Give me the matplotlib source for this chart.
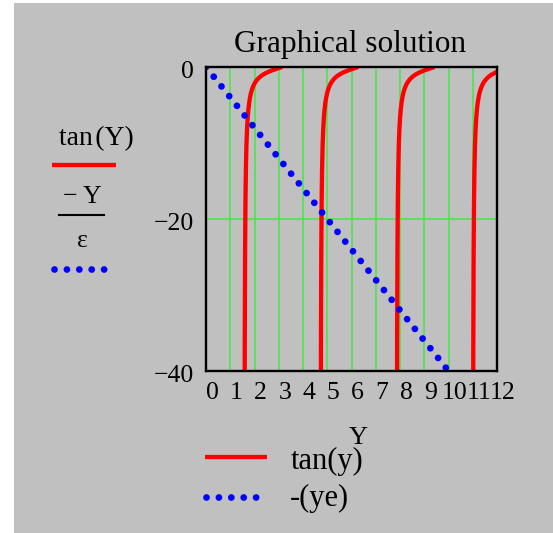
import numpy as np
import matplotlib
matplotlib.use("Agg")
import matplotlib.pyplot as plt
import matplotlib.transforms as mtrans
from matplotlib.lines import Line2D
from matplotlib.patches import Rectangle

# ---- chart content ----
eps = 0.25                      # epsilon in the straight line -Y/eps
x_range = [0, 12]
y_range = [-40, 0]
x_ticks = list(range(0, 13))
x_tick_labels = [str(v) for v in x_ticks]
y_ticks = [0, -20, -40]
y_tick_labels = ["0", "\u221220", "\u221240"]
x_grid = list(range(1, 12))
y_grid = [-20]
title = "Graphical solution"
x_label = "Y"
side_labels = ["tan\u200a(Y)", "\u2212 Y", "\u03b5"]
bottom_labels = ["tan(y)", "-(ye)"]

# ---- styles ----
W, H = 553, 533
GRAY = "#c0c0c0"
GREEN = "#4ee44e"
RED = "#ff0000"
BLUE = "#0000ff"
plt.rcParams["font.family"] = ["Liberation Serif", "DejaVu Serif"]


def fx(px):
    return px / W


def fy(py):
    return 1 - py / H


RED_LW = 3.1
BLUE_LW = 4.9
dot_style = (0, (0.001, 12.4 / 1.389 / BLUE_LW))

fig = plt.figure(figsize=(W / 100, H / 100), dpi=100)
fig.patch.set_facecolor("white")
fig.add_artist(Rectangle((fx(14), 0), 1 - fx(14), fy(3), transform=fig.transFigure,
                         facecolor=GRAY, edgecolor="none", zorder=-5))

ax = fig.add_axes([fx(206), fy(371), fx(497) - fx(206), fy(67) - fy(371)])
ax.set_facecolor(GRAY)
ax.set_xlim(*x_range)
ax.set_ylim(*y_range)

# grid
for gx in x_grid:
    ax.axvline(gx, color=GREEN, lw=1.2, zorder=1)
for gy in y_grid:
    ax.axhline(gy, color=GREEN, lw=1.2, zorder=1)

# curves
Y = np.linspace(x_range[0], x_range[1], 6001)
tanY = np.tan(Y)
tanY = np.where(tanY > 0, np.nan, tanY)
ax.plot(Y, tanY, color=RED, lw=RED_LW, solid_capstyle="butt", zorder=3)

line_val = -Y / eps
ax.plot(Y, line_val, color=BLUE, lw=BLUE_LW, linestyle=dot_style,
        dash_capstyle="round", zorder=4)

for sp in ax.spines.values():
    sp.set_color("black")
    sp.set_linewidth(1.7)
    sp.set_zorder(5)

ax.set_xticks(x_ticks)
ax.set_xticklabels(x_tick_labels)
ax.set_yticks(y_ticks)
ax.set_yticklabels(y_tick_labels)
ax.tick_params(axis="both", length=0, labelsize=18.5)
ax.tick_params(axis="x", pad=8)
ax.tick_params(axis="y", pad=9)

# tick labels sit slightly right of / below their tick positions
x_shift = mtrans.ScaledTranslation(6 / 100, 0, fig.dpi_scale_trans)
y_shift = mtrans.ScaledTranslation(0, -3 / 100, fig.dpi_scale_trans)
for lbl in ax.get_xticklabels():
    lbl.set_transform(lbl.get_transform() + x_shift)
for lbl in ax.get_yticklabels():
    lbl.set_transform(lbl.get_transform() + y_shift)

# title and axis label
fig.text(fx(350), fy(52), title, ha="center", va="baseline", fontsize=22.5)
fig.text(fx(358), fy(444), x_label, ha="center", va="baseline", fontsize=19)

# side legend
fig.text(fx(96.5), fy(145), side_labels[0], ha="center", va="baseline", fontsize=20)
fig.add_artist(Line2D([fx(52), fx(116)], [fy(165), fy(165)], color=RED, lw=RED_LW,
                      solid_capstyle="butt"))
fig.text(fx(82), fy(203), side_labels[1], ha="center", va="baseline", fontsize=18.5)
fig.add_artist(Line2D([fx(59), fx(104)], [fy(215), fy(215)], color="black", lw=1.5))
fig.text(fx(82), fy(247), side_labels[2], ha="center", va="baseline", fontsize=18.5)
fig.add_artist(Line2D([fx(54), fx(106)], [fy(269), fy(269)], color=BLUE, lw=BLUE_LW,
                      linestyle=dot_style, dash_capstyle="round"))

# bottom legend
fig.add_artist(Line2D([fx(205), fx(267)], [fy(457), fy(457)], color=RED, lw=RED_LW,
                      solid_capstyle="butt"))
fig.text(fx(291), fy(469), bottom_labels[0], ha="left", va="baseline", fontsize=22)
fig.add_artist(Line2D([fx(206), fx(258)], [fy(497), fy(497)], color=BLUE, lw=BLUE_LW,
                      linestyle=dot_style, dash_capstyle="round"))
fig.text(fx(290), fy(506), bottom_labels[1], ha="left", va="baseline", fontsize=22)

fig.savefig("out.png", dpi=100, facecolor=fig.get_facecolor())
